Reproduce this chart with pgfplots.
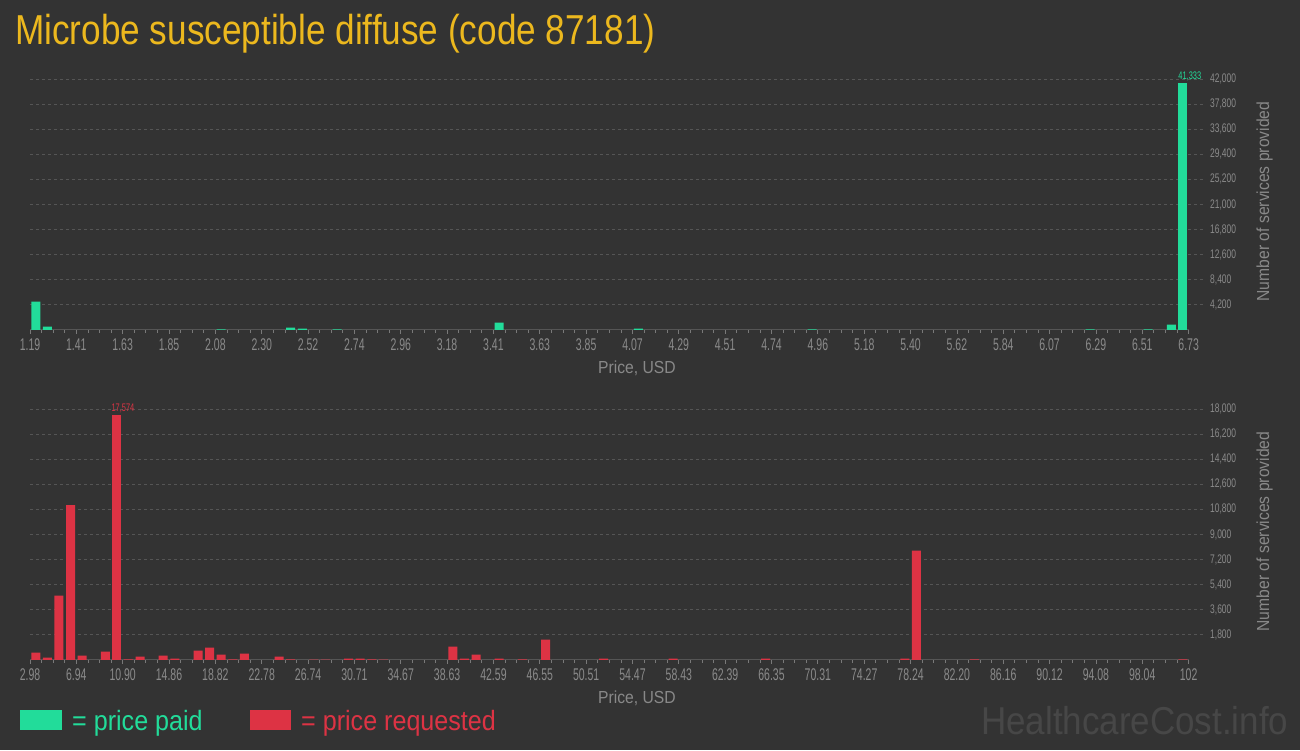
\documentclass[border=0pt]{standalone}
\usepackage{fontspec}
\setmainfont{Liberation Sans}
\newfontfamily\titlefont{Liberation Sans}[FakeStretch=0.84]
\newfontfamily\labfont{Liberation Sans}[FakeStretch=0.9]
\newfontfamily\tickfont{Liberation Sans}[FakeStretch=0.62]
\newfontfamily\ytickfont{Liberation Sans}[FakeStretch=0.68]
\usepackage{pgfplots}
\pgfplotsset{compat=1.18}

\definecolor{bgc}{HTML}{333333}
\definecolor{greenc}{HTML}{22DC9A}
\definecolor{redc}{HTML}{DD3344}
\definecolor{titlec}{HTML}{ECB81E}
\definecolor{tickc}{HTML}{8A8A8A}
\definecolor{labc}{HTML}{888888}
\definecolor{gridc}{HTML}{555555}
\definecolor{basec}{HTML}{555555}
\definecolor{wmc}{HTML}{474747}

\pgfplotsset{hcstyle/.style={
  scale only axis,
  width=1176bp, height=251bp,
  xmin=0, xmax=101.5, ymin=0,
  axis line style={draw=none},
  clip=false,
  scaled y ticks=false,
  tick align=outside,
  xtick pos=lower,
  xtick={0,4,...,100},
  minor xtick={0,1,...,100},
  major tick length=4bp,
  minor tick length=3bp,
  every tick/.style={color=tickc!80!bgc, line width=0.8bp},
  xticklabel style={font=\tickfont\fontsize{17}{17}\selectfont, text=tickc, inner sep=0pt, anchor=north, yshift=-4bp, text height=12bp, text depth=0pt},
  ytick pos=right,
  yticklabel pos=right,
  ytick style={draw=none},
  yticklabel style={font=\ytickfont\fontsize{12.5}{12.5}\selectfont, text=tickc, anchor=west, inner sep=1bp, xshift=-1bp},
  ymajorgrids,
  y grid style={gridc, dash pattern=on 3bp off 3bp, line width=0.8bp},
  ybar, bar width=9bp, bar shift=0pt,
}}

\begin{document}
\begin{tikzpicture}[x=1bp,y=1bp]
\fill[bgc] (0,0) rectangle (1300,750);
\node[anchor=base west, text=titlec, inner sep=0, font=\titlefont\fontsize{42}{42}\selectfont] at (15,705) {Microbe susceptible diffuse (code 87181)};

% price paid
\begin{axis}[hcstyle,
  at={(30bp,420bp)}, anchor=south west,
  ymax=42000,
  ytick={4200,8400,12600,16800,21000,25200,29400,33600,37800,42000},
  yticklabels={{4,200},{8,400},{12,600},{16,800},{21,000},{25,200},{29,400},{33,600},{37,800},{42,000}},
  xticklabels={1.19,1.41,1.63,1.85,2.08,2.30,2.52,2.74,2.96,3.18,3.41,3.63,3.85,4.07,4.29,4.51,4.74,4.96,5.18,5.40,5.62,5.84,6.07,6.29,6.51,6.73},
]
\draw[basec, line width=1bp] (axis cs:0,0) -- (axis cs:100,0);
\addplot[fill=greenc, draw=none] coordinates {
(0.5,4740) (1.5,560) (16.5,120) (22.5,390) (23.5,230) (26.5,100)
(40.5,1230) (52.5,230) (67.5,120) (91.5,100) (96.5,100) (98.5,890)
};
\addplot[fill=greenc, draw=none,
  nodes near coords={41,333},
  every node near coord/.append style={font=\ytickfont\fontsize{11}{11}\selectfont, text=greenc, xshift=7bp, inner sep=2bp}]
  coordinates {(99.5,41333)};
\end{axis}
\node[text=labc, font=\labfont\fontsize{17.5}{17.5}\selectfont] at (637,382) {Price, USD};
\node[rotate=90, text=labc, font=\labfont\fontsize{17.5}{17.5}\selectfont] at (1264.5,548.5) {Number of services provided};

% price requested
\begin{axis}[hcstyle,
  at={(30bp,90bp)}, anchor=south west,
  ymax=18000,
  ytick={1800,3600,5400,7200,9000,10800,12600,14400,16200,18000},
  yticklabels={{1,800},{3,600},{5,400},{7,200},{9,000},{10,800},{12,600},{14,400},{16,200},{18,000}},
  xticklabels={2.98,6.94,10.90,14.86,18.82,22.78,26.74,30.71,34.67,38.63,42.59,46.55,50.51,54.47,58.43,62.39,66.35,70.31,74.27,78.24,82.20,86.16,90.12,94.08,98.04,102},
]
\draw[basec, line width=1bp] (axis cs:0,0) -- (axis cs:100,0);
\addplot[fill=redc, draw=none] coordinates {
(0.5,530) (1.5,170) (2.5,4610) (3.5,11100) (4.5,310) (6.5,600)
(8.5,40) (9.5,240) (11.5,310) (12.5,100) (14.5,670) (15.5,885)
(16.5,380) (17.5,40) (18.5,455) (21.5,240) (22.5,40) (24.5,30)
(25.5,30) (27.5,100) (28.5,100) (29.5,40) (30.5,30) (36.5,960)
(37.5,100) (38.5,380) (40.5,100) (42.5,40) (44.5,1460) (49.5,100)
(55.5,100) (63.5,100) (75.5,100) (76.5,7850) (81.5,40) (99.5,40)
};
\addplot[fill=redc, draw=none,
  nodes near coords={17,574},
  every node near coord/.append style={font=\ytickfont\fontsize{11}{11}\selectfont, text=redc, xshift=6bp, inner sep=2bp}]
  coordinates {(7.5,17574)};
\end{axis}
\node[text=labc, font=\labfont\fontsize{17.5}{17.5}\selectfont] at (637,52) {Price, USD};
\node[rotate=90, text=labc, font=\labfont\fontsize{17.5}{17.5}\selectfont] at (1264.5,218.5) {Number of services provided};

% legend
\fill[greenc] (20,20) rectangle (62,40);
\node[anchor=base west, inner sep=0, text=greenc, font=\labfont\fontsize{28}{28}\selectfont] at (72,20) {= price paid};
\fill[redc] (250,20) rectangle (291,40);
\node[anchor=base west, inner sep=0, text=redc, font=\labfont\fontsize{28}{28}\selectfont] at (301,20) {= price requested};
\node[anchor=base west, inner sep=0, text=wmc, font=\labfont\fontsize{39}{39}\selectfont] at (981,16) {HealthcareCost.info};

\pgfresetboundingbox
\path[use as bounding box] (0,0) rectangle (1300,750);
\end{tikzpicture}
\end{document}
